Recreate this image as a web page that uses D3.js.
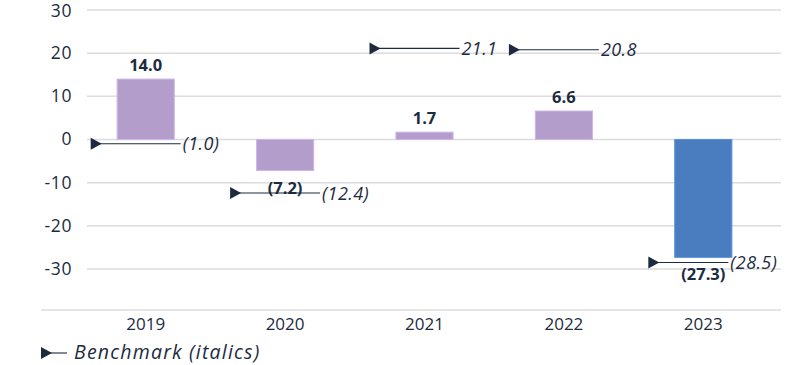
<!DOCTYPE html>
<meta charset='utf-8'>
<style>

body {
  margin: 0;
  background: #fff;
  font-family: 'Open Sans', sans-serif;
}

.grid line {
  stroke: #dcdcdf;
  stroke-width: 1.5;
}

text {
  fill: #1c2b3f;
}

</style>
<svg width='800' height='365'></svg>

<script src='https://cdn.jsdelivr.net/npm/d3@7'></script>

<script>

var years = ['2019', '2020', '2021', '2022', '2023'],
    values = [14.0, -7.2, 1.7, 6.6, -27.3],
    benchmarks = [-1.0, -12.4, 21.1, 20.8, -28.5],
    yTicks = [30, 20, 10, 0, -10, -20, -30];

var svg = d3.select('svg'),
    ink = '#1c2b3f',
    purple = '#b39ecb',
    blue = '#4a7dc0';

var x = d3.scaleBand()
    .domain(years)
    .range([76, 773])
    .paddingInner(0.59)
    .paddingOuter(0.295);

var y = d3.scaleLinear()
    .domain([-39.5, 30])
    .range([310, 10]);

// gridlines
svg.append('g')
    .attr('class', 'grid')
    .selectAll('line')
    .data(yTicks)
    .enter()
    .append('line')
    .attr('x1', 87)
    .attr('x2', 781)
    .attr('y1', function(d) { return y(d); })
    .attr('y2', function(d) { return y(d); });

// bottom axis line
svg.append('line')
    .attr('x1', 41).attr('x2', 781)
    .attr('y1', y(-39.5)).attr('y2', y(-39.5))
    .attr('stroke', '#dcdcdf')
    .attr('stroke-width', 1.5);

// y labels
svg.append('g')
    .selectAll('text')
    .data(yTicks)
    .enter()
    .append('text')
    .attr('x', 72)
    .attr('y', function(d) { return y(d) + 6; })
    .attr('dy', function(d) { return d == 30 ? 0.5 : 0; })
    .attr('text-anchor', 'end')
    .style('font-size', '17.5px')
    .style('letter-spacing', '0.6px')
    .text(function(d) { return d < 0 ? '-' + Math.abs(d) : d; });

// x labels
svg.append('g')
    .selectAll('text')
    .data(years)
    .enter()
    .append('text')
    .attr('x', function(d) { return x(d) + x.bandwidth() / 2; })
    .attr('y', 330)
    .attr('text-anchor', 'middle')
    .style('font-size', '17px')
    .text(function(d) { return d; });

var rows = years.map(function(d, i) {
    return { year: d, value: values[i], bench: benchmarks[i], last: i == years.length - 1 };
});

// bars
svg.append('g')
    .selectAll('rect')
    .data(rows)
    .enter()
    .append('rect')
    .attr('x', function(d) { return x(d.year); })
    .attr('width', x.bandwidth())
    .attr('y', function(d) { return y(Math.max(0, d.value)); })
    .attr('height', function(d) { return Math.abs(y(d.value) - y(0)); })
    .attr('fill', function(d) { return d.last ? blue : purple; })
    .attr('stroke', function(d) { return d3.color(d.last ? blue : purple).brighter(0.4); })
    .attr('stroke-width', 1);

// value labels
svg.append('g')
    .selectAll('text')
    .data(rows)
    .enter()
    .append('text')
    .attr('x', function(d) { return x(d.year) + x.bandwidth() / 2; })
    .attr('y', function(d) { return d.value >= 0 ? y(d.value) - 8 : y(d.value) + 23; })
    .attr('text-anchor', 'middle')
    .style('font-size', '16.5px')
    .style('font-weight', 'bold')
    .text(function(d) { return d.value >= 0 ? d.value.toFixed(1) : '(' + Math.abs(d.value).toFixed(1) + ')'; });

// benchmark markers
function fmt(v) { return v >= 0 ? v.toFixed(1) : '(' + Math.abs(v).toFixed(1) + ')'; }

var bench = svg.append('g')
    .selectAll('g')
    .data(rows)
    .enter()
    .append('g')
    .attr('transform', function(d) {
        return 'translate(' + (x(d.year) + x.bandwidth() / 2) + ',' + y(d.bench) + ')';
    });

bench.append('path')
    .attr('d', 'M-55,-6L-44,0L-55,6Z')
    .attr('fill', ink);

bench.append('line')
    .attr('x1', -50)
    .attr('x2', function(d) { return d.last ? 25 : 35; })
    .attr('stroke', ink)
    .attr('stroke-width', 1.1);

bench.append('text')
    .attr('x', function(d) { return d.last ? 27 : 37; })
    .attr('y', 6.5)
    .style('font-size', '18px')
    .style('font-style', 'italic')
    .style('letter-spacing', '0.4px')
    .text(function(d) { return fmt(d.bench); });

// legend
var legend = svg.append('g').attr('transform', 'translate(41,353)');
legend.append('path').attr('d', 'M0,-6L11,0L0,6Z').attr('fill', ink);
legend.append('line').attr('x1', 4).attr('x2', 26).attr('stroke', ink).attr('stroke-width', 1.1);
legend.append('text')
    .attr('x', 33)
    .attr('y', 5.5)
    .style('font-size', '19.5px')
    .style('font-style', 'italic')
    .style('letter-spacing', '1.2px')
    .text('Benchmark (italics)');

</script>
